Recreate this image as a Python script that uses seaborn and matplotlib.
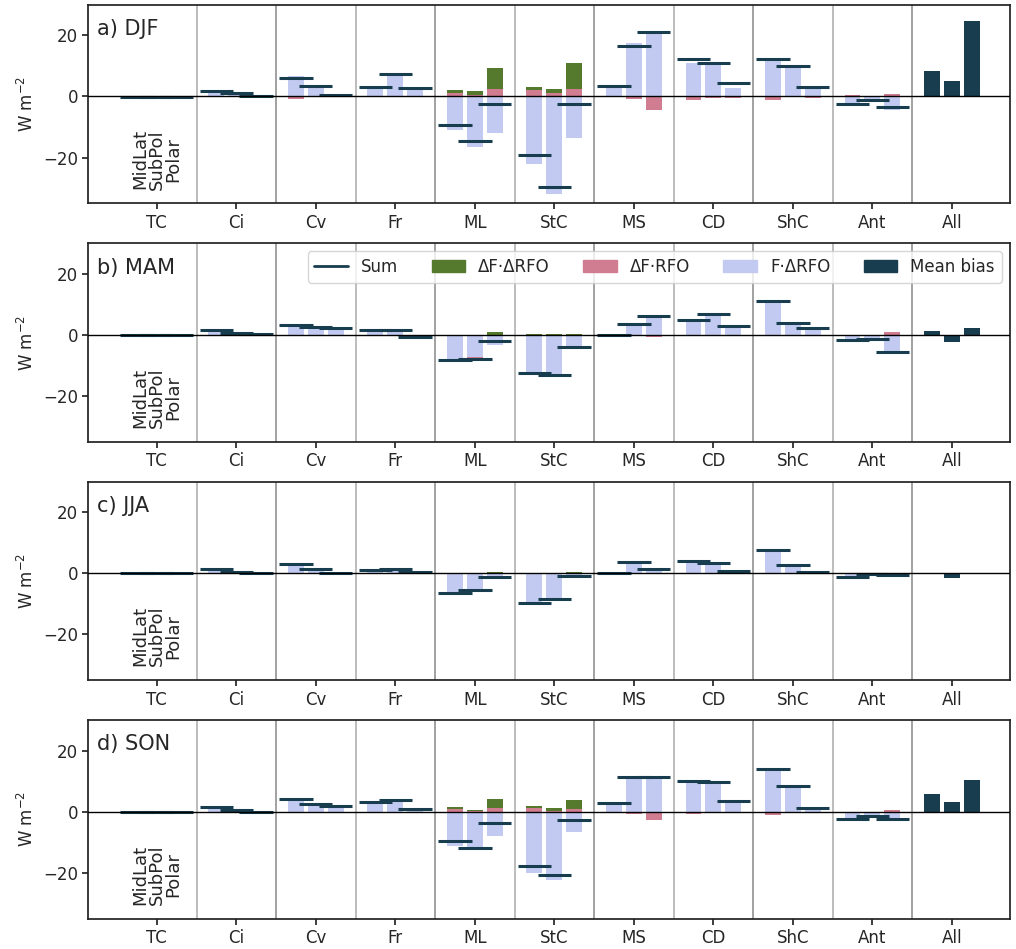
import numpy as np
import matplotlib
matplotlib.use("Agg")
import matplotlib.pyplot as plt
import seaborn as sns
from matplotlib.lines import Line2D
from matplotlib.patches import Patch

categories = ["TC", "Ci", "Cv", "Fr", "ML", "StC", "MS", "CD", "ShC", "Ant", "All"]
bands = ["MidLat", "SubPol", "Polar"]
seasons = ["a) DJF", "b) MAM", "c) JJA", "d) SON"]

# per category: (MidLat, SubPol, Polar)
djf_f_drfo = [0, 0, 0, 1.9, 1.0, 0.2, 6.8, 3.5, 0.4, 3.2, 7.7, 3.0, -11.0, -16.6, -12.0,
              -22.2, -32.0, -13.7, 3.3, 17.5, 20.3, 11.1, 11.1, 2.6, 11.7, 9.7, 2.6, -2.4, -0.8, -4.4]
djf_df_rfo = [0, 0, 0, 0, 0, 0, -0.9, 0, 0, -0.3, -0.3, -0.3, 1.1, 0.4, 2.4,
              2.0, 1.0, 2.4, 0, -0.9, -4.3, -1.1, -0.4, -0.4, -1.1, -0.3, -0.4, 0.4, 0, 0.8]
djf_df_drfo = [0, 0, 0, 0, 0, 0, 0, 0, 0, 0, 0, 0, 1.0, 1.3, 6.8,
               1.0, 1.3, 8.7, 0, 0, 0, 0, 0, 0, 0, 0, 0, 0, 0, 0]
djf_sum = [-0.1, -0.1, -0.1, 1.9, 1.0, 0.2, 5.9, 3.5, 0.4, 3.0, 7.5, 2.8, -9.2, -14.6, -2.4,
           -19.3, -29.6, -2.4, 3.3, 16.6, 21.2, 12.2, 11.1, 4.5, 12.1, 10.1, 3.0, -2.5, -1.2, -3.5]
djf_bias = [8.2, 4.9, 24.6]

mam_f_drfo = [0, 0, 0, 1.5, 0.5, 0.3, 3.1, 2.7, 2.4, 1.7, 1.6, -0.6, -7.9, -7.1, -3.2,
              -12.6, -12.7, -4.0, 0, 3.7, 6.2, 5.0, 7.0, 2.8, 11.1, 3.9, 2.1, -1.5, -1.2, -6.2]
mam_df_rfo = [0, 0, 0, 0, 0, 0, -0.3, 0, -0.3, 0, 0, -0.3, -0.2, -0.5, 0,
              0, -0.5, 0, 0, 0, -0.6, 0, 0.3, 0, 0, 0, 0, 0, 0, 0.8]
mam_df_drfo = [0, 0, 0, 0, 0, 0, 0, -0.2, 0, 0, -0.2, 0, 0, 0, 0.8,
               0.4, 0.2, 0.3, 0, -0.2, 0, 0, -0.5, 0, 0, -0.2, 0, 0, 0, 0]
mam_sum = [0, 0, 0, 1.5, 0.5, 0.3, 3.3, 2.7, 2.3, 1.7, 1.6, -0.8, -8.1, -7.9, -1.9,
           -12.6, -13.2, -4.0, 0, 3.7, 6.2, 5.0, 6.9, 2.8, 11.1, 3.9, 2.1, -1.6, -1.2, -5.6]
mam_bias = [1.1, -2.4, 2.4]

jja_f_drfo = [0, 0, 0, 1.4, 0.3, 0, 3.1, 1.4, 0.2, 1.1, 1.5, 0.3, -6.2, -5.1, -1.3,
              -9.7, -8.0, -1.0, 0, 3.8, 1.4, 3.9, 3.4, 0.8, 7.5, 2.6, 0.4, -1.2, -0.4, -0.5]
jja_df_rfo = [0, 0, 0, 0, 0, 0, 0, 0, 0, 0, 0, 0, -0.3, -0.4, 0,
              0, -0.3, 0, 0, 0, 0, 0, 0, 0, 0, 0, 0, 0, 0, 0]
jja_df_drfo = [0, 0, 0, 0, 0, 0, 0, 0, 0, 0, 0, 0, 0, 0, 0.3,
               0, 0, 0.3, 0, 0, 0, 0, 0, 0, 0, 0, 0, 0, 0, 0]
jja_sum = [0, 0, 0, 1.4, 0.3, 0, 3.1, 1.4, 0.2, 1.1, 1.5, 0.3, -6.6, -5.6, -1.2,
           -9.7, -8.4, -0.9, 0, 3.8, 1.4, 3.9, 3.4, 0.8, 7.5, 2.6, 0.4, -1.2, -0.4, -0.5]
jja_bias = [-0.1, -1.5, 0.2]

son_f_drfo = [0, 0, 0, 1.5, 0.4, 0, 4.2, 2.6, 1.7, 3.0, 3.9, 0.9, -11.4, -12.6, -8.1,
              -20.2, -22.2, -6.8, 2.7, 11.3, 11.1, 9.8, 9.8, 3.3, 13.6, 8.4, 1.2, -2.0, -1.8, -3.1]
son_df_rfo = [0, 0, 0, 0, 0, 0, -0.4, 0, -0.5, 0, 0, 0, 0.8, 0.2, 1.3,
              1.2, 0.3, 1.0, 0, -0.9, -2.8, -0.9, 0, -0.5, -1.2, 0, 0, 0, 0, 0.7]
son_df_drfo = [0, 0, 0, 0, 0, 0, 0, 0, 0, 0, 0, 0, 0.8, 0.5, 3.0,
               0.8, 1.0, 2.9, 0, 0, 0, 0, 0, 0, 0, 0, 0, 0, 0, 0]
son_sum = [0, 0, 0, 1.5, 0.4, 0, 4.2, 2.6, 1.7, 3.0, 3.9, 0.9, -9.6, -11.8, -3.7,
           -17.9, -20.8, -2.6, 2.7, 11.3, 11.4, 10.1, 9.8, 3.6, 14.0, 8.4, 1.2, -2.4, -1.5, -2.4]
son_bias = [5.9, 3.0, 10.5]

data = [
    (djf_f_drfo, djf_df_rfo, djf_df_drfo, djf_sum, djf_bias),
    (mam_f_drfo, mam_df_rfo, mam_df_drfo, mam_sum, mam_bias),
    (jja_f_drfo, jja_df_rfo, jja_df_drfo, jja_sum, jja_bias),
    (son_f_drfo, son_df_rfo, son_df_drfo, son_sum, son_bias),
]

c_blue = "#c2caf2"
c_pink = "#d17d91"
c_green = "#557a2e"
c_dark = "#173d4f"

sns.set_theme(style="ticks")
plt.rcParams["font.family"] = ["DejaVu Sans"]
plt.rcParams["axes.edgecolor"] = "#222222"

fig, axes = plt.subplots(4, 1, figsize=(10.16, 9.49), dpi=100)
fig.subplots_adjust(left=0.087, right=0.994, top=0.995, bottom=0.032, hspace=0.2)

offs = np.array([-0.25, 0.0, 0.25])
bw = 0.2
sw = 0.42
ncat = len(categories) - 1

for ax, label, (fd, dr, dd, sm, bias) in zip(axes, seasons, data):
    fd = np.array(fd).reshape(ncat, 3)
    dr = np.array(dr).reshape(ncat, 3)
    dd = np.array(dd).reshape(ncat, 3)
    sm = np.array(sm).reshape(ncat, 3)
    for i in range(ncat):
        xs = i + offs
        pos = np.zeros(3)
        neg = np.zeros(3)
        for vals, col in ((fd[i], c_blue), (dr[i], c_pink), (dd[i], c_green)):
            bottoms = np.where(vals >= 0, pos, neg)
            ax.bar(xs, vals, bw, bottom=bottoms, color=col, linewidth=0, zorder=2)
            pos = pos + np.clip(vals, 0, None)
            neg = neg + np.clip(vals, None, 0)
        ax.hlines(sm[i], xs - sw / 2, xs + sw / 2, color=c_dark, lw=2.2, zorder=3)
    ax.bar(ncat + offs, bias, bw, color=c_dark, linewidth=0, zorder=2)
    ax.axhline(0, color="black", lw=1, zorder=4)
    for k in range(len(categories) - 1):
        ax.axvline(k + 0.5, color="#aaaaaa" if k % 2 == 0 else "#888888", lw=1.1, zorder=1)
    ax.set_xlim(-0.86, 10.73)
    ax.set_xticks(range(len(categories)))
    ax.set_xticklabels(categories, fontsize=12)
    ax.set_ylim(-35, 30)
    ax.set_yticks([-20, 0, 20])
    ax.tick_params(axis="both", labelsize=12, direction="out", length=4)
    ax.set_ylabel("W m$^{-2}$", fontsize=12)
    ax.text(-0.75, 22, label, fontsize=15, va="center", ha="left")
    ax.text(0.0, -30.5, "MidLat\nSubPol\nPolar", rotation=90, fontsize=13,
            ha="center", va="bottom", linespacing=0.9)

handles = [
    Line2D([], [], color=c_dark, lw=2),
    Patch(color=c_green), Patch(color=c_pink), Patch(color=c_blue), Patch(color=c_dark),
]
axes[1].legend(handles, ["Sum", "ΔF·ΔRFO", "ΔF·RFO", "F·ΔRFO", "Mean bias"],
               ncol=5, loc="upper right", fontsize=12, frameon=True,
               bbox_to_anchor=(1.0, 1.0), columnspacing=2.0, handlelength=2.0)

fig.savefig("out.png", dpi=100)
